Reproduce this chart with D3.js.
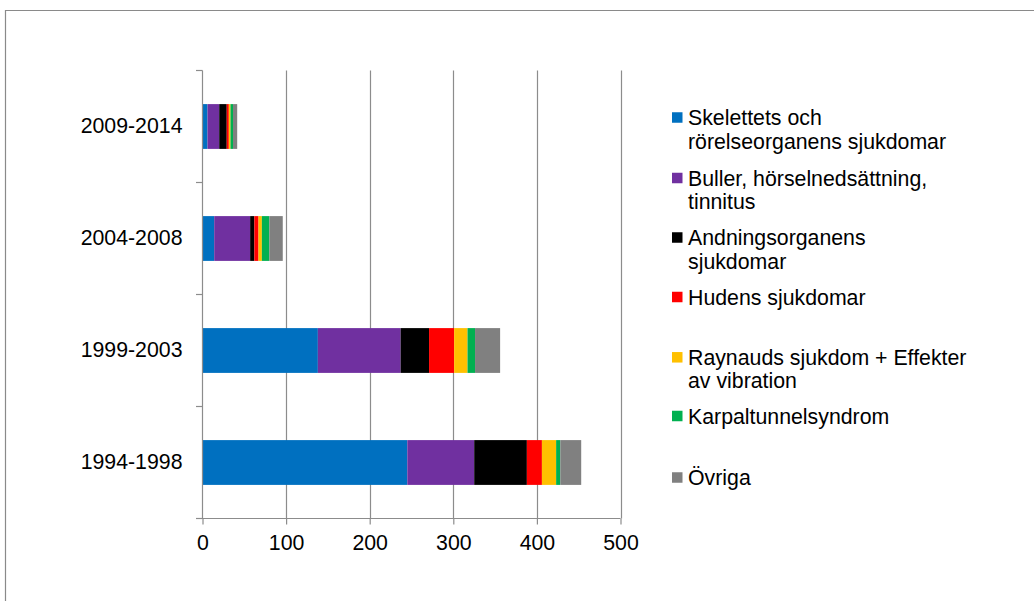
<!DOCTYPE html>
<html>
<head>
<meta charset="utf-8">
<script src="https://cdn.jsdelivr.net/npm/d3@7"></script>
<style>
  html, body { margin: 0; padding: 0; background: #fff; }
  svg { display: block; }
  text { font-family: "Liberation Sans", Arial, sans-serif; fill: #000; }
</style>
</head>
<body>
<svg id="chart" width="1034" height="601"></svg>
<script>
// ---- data ----
const categories = ["1994-1998", "1999-2003", "2004-2008", "2009-2014"];
const seriesNames = [
  ["Skelettets och", "rörelseorganens sjukdomar"],
  ["Buller, hörselnedsättning,", "tinnitus"],
  ["Andningsorganens", "sjukdomar"],
  ["Hudens sjukdomar"],
  ["Raynauds sjukdom + Effekter", "av vibration"],
  ["Karpaltunnelsyndrom"],
  ["Övriga"]
];
const skelett  = [245, 138, 14, 6];
const buller   = [80, 99, 43, 14];
const andning  = [63, 34, 5, 9];
const huden    = [18, 30, 5, 2.5];
const raynaud  = [17, 16, 4, 2];
const karpal   = [5, 9, 9, 3];
const ovriga   = [25, 30, 16, 5];
const xTicks   = [0, 100, 200, 300, 400, 500];
const colors   = ["#0070C0", "#7030A0", "#000000", "#FF0000", "#FFC000", "#00B050", "#808080"];

const seriesValues = [skelett, buller, andning, huden, raynaud, karpal, ovriga];
const keys = seriesValues.map((_, i) => "s" + i);
const table = categories.map((c, j) => {
  const row = { cat: c };
  seriesValues.forEach((arr, i) => row[keys[i]] = arr[j]);
  return row;
});
const stacked = d3.stack().keys(keys)(table);

const svg = d3.select("#chart");
const FS = 21.3;
const gridColor = "#8c8c8c";

// frame
svg.append("path")
  .attr("d", "M5.5,601 L5.5,10.5 L1034,10.5")
  .attr("fill", "none").attr("stroke", "#8a8a8a").attr("stroke-width", 1.2);

const x = d3.scaleLinear().domain([0, 500]).range([202.5, 620.5]);
const y = d3.scaleBand()
  .domain(categories.slice().reverse())
  .range([70.5, 518.5])
  .paddingInner(0.6).paddingOuter(0.3);

// gridlines
svg.append("g").selectAll("line")
  .data(xTicks.filter(t => t > 0))
  .join("line")
  .attr("x1", d => Math.round(x(d)) + 0.5).attr("x2", d => Math.round(x(d)) + 0.5)
  .attr("y1", 70.5).attr("y2", 518.5)
  .attr("stroke", gridColor).attr("stroke-width", 1.2);

// bars
svg.append("g").selectAll("g")
  .data(stacked)
  .join("g")
  .attr("fill", (d, i) => colors[i])
  .selectAll("rect")
  .data(d => d)
  .join("rect")
  .attr("x", d => x(d[0]))
  .attr("width", d => x(d[1]) - x(d[0]))
  .attr("y", d => y(d.data.cat))
  .attr("height", y.bandwidth());

// x axis
const xAxis = d3.axisBottom(x).tickValues(xTicks).tickSize(6).tickPadding(6).tickFormat(d3.format("d"));
const gx = svg.append("g").attr("transform", "translate(0,518.5)").call(xAxis);
gx.select(".domain").attr("d", "M196," + 0 + "H" + x(500)).attr("stroke", gridColor).attr("stroke-width", 1.2);
gx.selectAll(".tick line").attr("stroke", gridColor).attr("stroke-width", 1.2);
gx.selectAll(".tick text").attr("font-size", FS).attr("font-family", "Liberation Sans, Arial, sans-serif").attr("fill", "#000").attr("dy", "0.9em");

// y axis
const yAxis = d3.axisLeft(y).tickSize(0).tickPadding(20);
const gy = svg.append("g").attr("transform", "translate(202.5,0)").call(yAxis);
gy.select(".domain").attr("d", "M0,70.5V518.5").attr("stroke", gridColor).attr("stroke-width", 1.2);
gy.selectAll(".tick text").attr("font-size", FS).attr("font-family", "Liberation Sans, Arial, sans-serif").attr("fill", "#000");
// boundary ticks between categories
const step = y.step();
const bounds = d3.range(5).map(i => 70.5 + i * step);
gy.append("g").selectAll("line").data(bounds).join("line")
  .attr("x1", -6.5).attr("x2", 0).attr("y1", d => d).attr("y2", d => d)
  .attr("stroke", gridColor).attr("stroke-width", 1.2);

// legend
const legendCenters = [117.5, 178, 237.5, 297, 357.3, 416, 477.5];
const lg = svg.append("g");
seriesNames.forEach((lines, i) => {
  const cy = legendCenters[i];
  lg.append("rect").attr("x", 672).attr("y", cy - 5.25).attr("width", 10.5).attr("height", 10.5).attr("fill", colors[i]);
  const t = lg.append("text").attr("x", 688).attr("y", cy + 7.6).attr("font-size", FS);
  lines.forEach((ln, k) => {
    t.append("tspan").attr("x", 688).attr("dy", k === 0 ? 0 : 23.5).text(ln);
  });
});
</script>
</body>
</html>
